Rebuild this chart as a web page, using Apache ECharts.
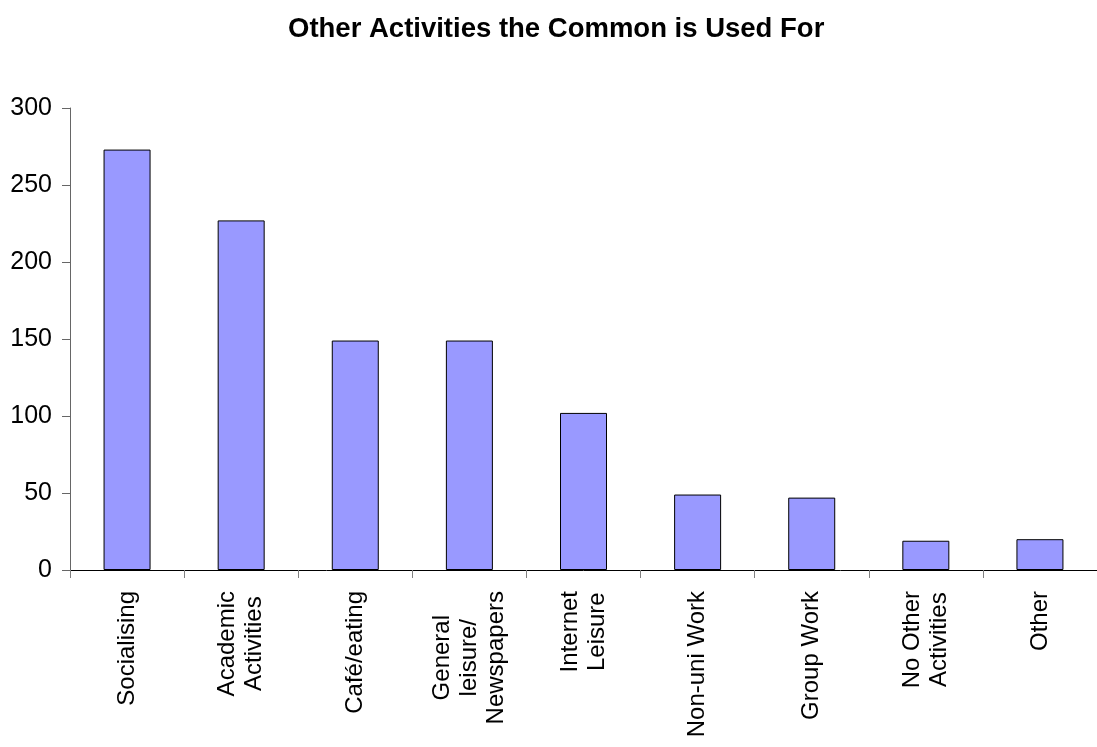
<!DOCTYPE html>
<html>
<head>
<meta charset="utf-8">
<script src="https://cdn.jsdelivr.net/npm/echarts@6/dist/echarts.min.js"></script>
<style>
html,body{margin:0;padding:0;background:#fff;}
#chart{width:1097px;height:747px;}
</style>
</head>
<body>
<div id="chart"></div>
<script>
const title = 'Other Activities the Common is Used For';
const categories = [
  'Socialising',
  'Academic\nActivities',
  'Café/eating',
  'General\nleisure/\nNewspapers',
  'Internet\nLeisure',
  'Non-uni Work',
  'Group Work',
  'No Other\nActivities',
  'Other'
];
const values = [273, 227, 149, 149, 102, 49, 47, 19, 20];
const yTicks = [0, 50, 100, 150, 200, 250, 300];

const regular = "'Liberation Sans', Arial, sans-serif";

const chart = echarts.init(document.getElementById('chart'), null, {renderer: 'canvas'});
chart.setOption({
  animation: false,
  backgroundColor: '#ffffff',
  title: {
    text: title,
    left: 288,
    top: 15,
    padding: 0,
    textStyle: {fontFamily: regular, fontWeight: 'bold', fontSize: 27.5, color: '#000'}
  },
  grid: {left: 70, top: 108, width: 1039.5, bottom: 177, containLabel: false},
  xAxis: {
    type: 'category',
    data: categories,
    boundaryGap: true,
    axisLine: {show: true, lineStyle: {color: '#000', width: 1}},
    axisTick: {show: true, length: 8, alignWithLabel: false, lineStyle: {color: '#808080'}},
    axisLabel: {
      interval: 0,
      rotate: 90,
      margin: 21,
      color: '#000',
      fontFamily: regular,
      fontSize: 24,
      lineHeight: 27,
      formatter: function (v) {
        return v.split('\n').map(function (s) { return '{a|' + s + '}'; }).join('\n');
      },
      rich: {a: {align: 'center', fontFamily: regular, fontSize: 24, lineHeight: 27, color: '#000'}}
    },
    splitLine: {show: false}
  },
  yAxis: {
    type: 'value',
    min: yTicks[0],
    max: yTicks[yTicks.length - 1],
    interval: yTicks[1] - yTicks[0],
    axisLine: {show: true, lineStyle: {color: '#666', width: 1}},
    axisTick: {show: true, length: 8, lineStyle: {color: '#666'}},
    axisLabel: {margin: 18, color: '#000', fontFamily: regular, fontSize: 25},
    splitLine: {show: false}
  },
  series: [{
    type: 'bar',
    data: values,
    barWidth: 47,
    itemStyle: {color: '#9999FF', borderColor: '#000', borderWidth: 1}
  }]
});
</script>
</body>
</html>
